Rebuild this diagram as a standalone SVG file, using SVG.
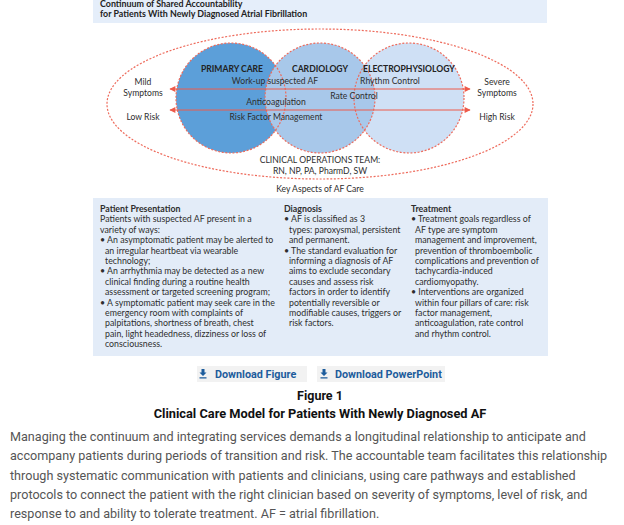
<svg xmlns="http://www.w3.org/2000/svg" width="624" height="525" viewBox="0 0 624 525">
<style>
.d{font-family:Lato,"Liberation Sans",sans-serif;fill:#2e2e2e;}
.lab{font-size:8.6px;text-anchor:middle;}
.hd{font-size:8.6px;font-weight:bold;text-anchor:middle;fill:#222;}
.col{font-size:8.8px;}
.colh{font-size:8.8px;font-weight:bold;}
.dash{fill:none;stroke:#ee6b5c;stroke-width:1.2;stroke-dasharray:2 1.6;}
.arr{stroke:#ee5a4a;stroke-width:1;fill:none;marker-start:url(#ah);marker-end:url(#ah);}
.btn{fill:#f2f2f2;}
.bt{font-family:Roboto,"Liberation Sans",sans-serif;font-size:10.8px;font-weight:bold;fill:#1d5c9c;}
.ic{fill:#1d5c9c;}
.cap{font-family:Roboto,"Liberation Sans",sans-serif;font-weight:bold;fill:#111;text-anchor:middle;}
.para{font-family:Roboto,"Liberation Sans",sans-serif;font-size:12.6px;fill:#555;}
</style>
<defs>
<marker id="ah" viewBox="0 0 10 10" refX="9" refY="5" markerWidth="7" markerHeight="6" orient="auto-start-reverse" markerUnits="userSpaceOnUse">
<path d="M0,0 L10,5 L0,10 z" fill="#ee5a4a"/>
</marker>
</defs>
<rect width="624" height="525" fill="#fff"/>
<g id="banner">
<rect x="93" y="0" width="454" height="23" fill="#e5eefa"/>
<text class="d" x="100" y="7" style="font-size:8.9px;font-weight:bold;fill:#222">Continuum of Shared Accountability</text>
<text class="d" x="100" y="17" style="font-size:8.9px;font-weight:bold;fill:#222">for Patients With Newly Diagnosed Atrial Fibrillation</text>
</g>
<g id="team-ellipse">
<ellipse class="dash" cx="320" cy="104" rx="213" ry="75"/>
</g>
<g id="circles">
<circle id="primary-care-fill" cx="231" cy="98" r="55" fill="#5c9fd9"/>
<circle id="ep-fill" cx="409" cy="98" r="55" fill="#cfe0f5"/>
<circle id="cardiology-fill" cx="320" cy="98" r="55" fill="#a8c8ea"/>
<circle class="dash" cx="231" cy="98" r="55"/>
<circle class="dash" cx="320" cy="98" r="55"/>
<circle class="dash" cx="409" cy="98" r="55"/>
</g>
<g id="connectors">
<line class="arr" x1="170" y1="89" x2="470" y2="89"/>
<line class="arr" x1="170" y1="110" x2="470" y2="110"/>
</g>
<g id="primary-care">
<text class="d hd" x="232" y="72">PRIMARY CARE</text>
</g>
<g id="cardiology">
<text class="d hd" x="320" y="72">CARDIOLOGY</text>
</g>
<g id="electrophysiology">
<text class="d hd" x="409" y="72">ELECTROPHYSIOLOGY</text>
</g>
<g id="care-labels">
<text class="d lab" x="275" y="84">Work-up suspected AF</text>
<text class="d lab" x="390" y="84">Rhythm Control</text>
<text class="d lab" x="354" y="99">Rate Control</text>
<text class="d lab" x="276" y="105">Anticoagulation</text>
<text class="d lab" x="276" y="120">Risk Factor Management</text>
</g>
<g id="left-labels">
<text class="d lab" x="143" y="85">Mild</text>
<text class="d lab" x="143" y="96">Symptoms</text>
<text class="d lab" x="143" y="120">Low Risk</text>
</g>
<g id="right-labels">
<text class="d lab" x="497" y="85">Severe</text>
<text class="d lab" x="497" y="96">Symptoms</text>
<text class="d lab" x="497" y="120">High Risk</text>
</g>
<g id="team">
<text class="d lab" x="320" y="163">CLINICAL OPERATIONS TEAM:</text>
<text class="d lab" x="320" y="174">RN, NP, PA, PharmD, SW</text>
<text class="d lab" x="320" y="192">Key Aspects of AF Care</text>
</g>
<g id="aspects">
<rect x="93" y="198" width="455" height="158" fill="#e3ecf8"/>
<text class="d colh" x="100" y="212">Patient Presentation</text>
<text class="d col" x="100" y="222.4">Patients with suspected AF present in a</text>
<text class="d col" x="100" y="232.8">variety of ways:</text>
<text class="d col" x="100" y="243.2">• An asymptomatic patient may be alerted to</text>
<text class="d col" x="105" y="253.6">an irregular heartbeat via wearable</text>
<text class="d col" x="105" y="264">technology;</text>
<text class="d col" x="100" y="274.4">• An arrhythmia may be detected as a new</text>
<text class="d col" x="105" y="284.8">clinical finding during a routine health</text>
<text class="d col" x="105" y="295.2">assessment or targeted screening program;</text>
<text class="d col" x="100" y="305.6">• A symptomatic patient may seek care in the</text>
<text class="d col" x="105" y="316">emergency room with complaints of</text>
<text class="d col" x="105" y="326.4">palpitations, shortness of breath, chest</text>
<text class="d col" x="105" y="336.8">pain, light headedness, dizziness or loss of</text>
<text class="d col" x="105" y="347.2">consciousness.</text>
<text class="d colh" x="284" y="212">Diagnosis</text>
<text class="d col" x="284" y="222.4">• AF is classified as 3</text>
<text class="d col" x="289" y="232.8">types: paroxysmal, persistent</text>
<text class="d col" x="289" y="243.2">and permanent.</text>
<text class="d col" x="284" y="253.6">• The standard evaluation for</text>
<text class="d col" x="289" y="264">informing a diagnosis of AF</text>
<text class="d col" x="289" y="274.4">aims to exclude secondary</text>
<text class="d col" x="289" y="284.8">causes and assess risk</text>
<text class="d col" x="289" y="295.2">factors in order to identify</text>
<text class="d col" x="289" y="305.6">potentially reversible or</text>
<text class="d col" x="289" y="316">modifiable causes, triggers or</text>
<text class="d col" x="289" y="326.4">risk factors.</text>
<text class="d colh" x="411" y="212">Treatment</text>
<text class="d col" x="411" y="222.4">• Treatment goals regardless of</text>
<text class="d col" x="415" y="232.8">AF type are symptom</text>
<text class="d col" x="415" y="243.2">management and improvement,</text>
<text class="d col" x="415" y="253.6">prevention of thromboembolic</text>
<text class="d col" x="415" y="264">complications and prevention of</text>
<text class="d col" x="415" y="274.4">tachycardia-induced</text>
<text class="d col" x="415" y="284.8">cardiomyopathy.</text>
<text class="d col" x="411" y="295.2">• Interventions are organized</text>
<text class="d col" x="415" y="305.6">within four pillars of care: risk</text>
<text class="d col" x="415" y="316">factor management,</text>
<text class="d col" x="415" y="326.4">anticoagulation, rate control</text>
<text class="d col" x="415" y="336.8">and rhythm control.</text>
</g>
<g id="download-figure">
<rect class="btn" x="197" y="366" width="110" height="16"/>
<path class="ic" d="M201.5,369 h3 v3.5 h2 l-3.5,3.5 l-3.5,-3.5 h2 z M199.5,377.2 h7 v1.3 h-7 z"/>
<text class="bt" x="215" y="378">Download Figure</text>
</g>
<g id="download-powerpoint">
<rect class="btn" x="317" y="366" width="128" height="16"/>
<path class="ic" d="M322.5,369 h3 v3.5 h2 l-3.5,3.5 l-3.5,-3.5 h2 z M320.5,377.2 h7 v1.3 h-7 z"/>
<text class="bt" x="335" y="378">Download PowerPoint</text>
</g>
<g id="caption">
<text class="cap" x="320" y="400" style="font-size:12.5px">Figure 1</text>
<text class="cap" x="320" y="418" style="font-size:12.8px">Clinical Care Model for Patients With Newly Diagnosed AF</text>
<text class="para" x="10" y="441">Managing the continuum and integrating services demands a longitudinal relationship to anticipate and</text>
<text class="para" x="10" y="460.3">accompany patients during periods of transition and risk. The accountable team facilitates this relationship</text>
<text class="para" x="10" y="479.6">through systematic communication with patients and clinicians, using care pathways and established</text>
<text class="para" x="10" y="498.9">protocols to connect the patient with the right clinician based on severity of symptoms, level of risk, and</text>
<text class="para" x="10" y="518.2">response to and ability to tolerate treatment. AF = atrial fibrillation.</text>
</g>
</svg>
